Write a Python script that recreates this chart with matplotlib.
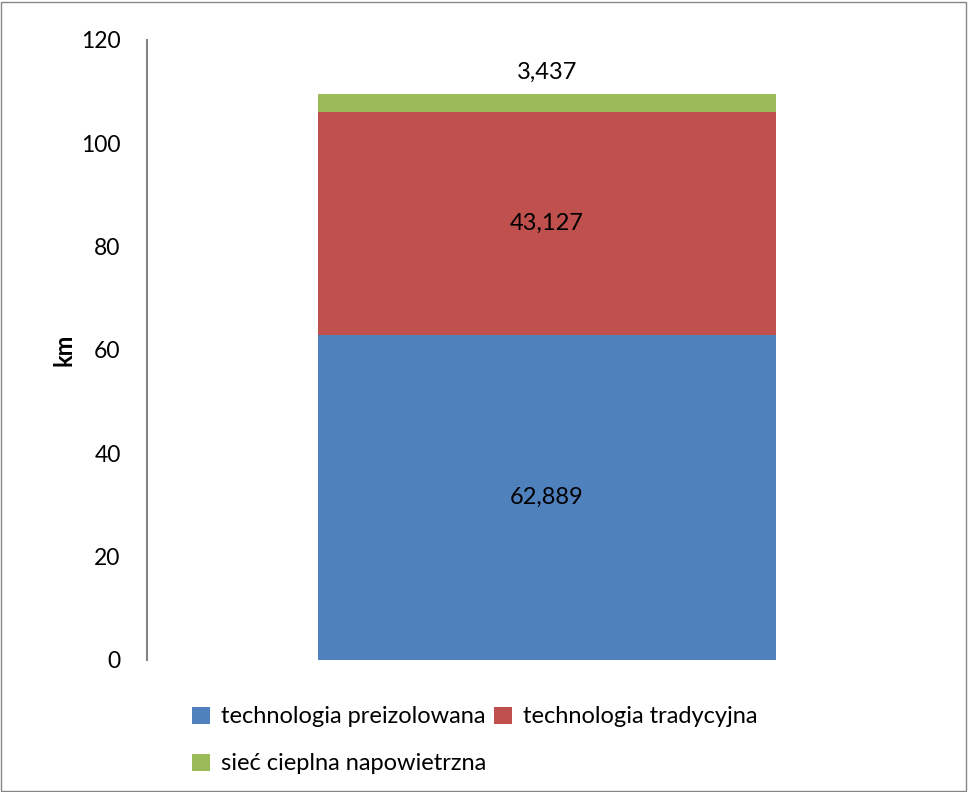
import matplotlib.pyplot as plt
from matplotlib.patches import Rectangle

# dane
series = ['technologia preizolowana', 'technologia tradycyjna', 'sieć cieplna napowietrzna']
values = [62.889, 43.127, 3.437]
labels = ['62,889', '43,127', '3,437']
colors = ['#4F81BD', '#C0504D', '#9BBB59']

plt.rcParams['font.family'] = ['Lato', 'DejaVu Sans']
FS = 17

fig = plt.figure(figsize=(9.68, 7.92), dpi=100)
ax = fig.add_axes([147 / 968, 1 - 660 / 792, 800 / 968, 620 / 792])

bottom = 0
handles = []
for name, val, lab, col in zip(series, values, labels, colors):
    b = ax.bar(0, val, width=0.5725, bottom=bottom, color=col, label=name)
    handles.append(b)
    if val > 10:
        ax.text(0, bottom + val / 2, lab, ha='center', va='center', fontsize=FS)
    else:
        ax.text(0, bottom + val + 2.3, lab, ha='center', va='bottom', fontsize=FS)
    bottom += val

ax.set_xlim(-0.5, 0.5)
ax.set_ylim(0, 120)
ax.set_yticks(range(0, 121, 20))
ax.set_xticks([])
ax.tick_params(axis='y', length=0, pad=19, labelsize=16.5)
for s in ['top', 'right', 'bottom']:
    ax.spines[s].set_visible(False)
ax.spines['left'].set_color('#868686')
ax.spines['left'].set_linewidth(1.5)
ax.set_ylabel('km', fontsize=FS, fontweight='bold', labelpad=4)

# legenda: wiersz po wierszu
order = [handles[0], handles[2], handles[1]]
fig.legend(order, [h.get_label() for h in order], ncol=2, frameon=False,
           loc='upper left', bbox_to_anchor=(183 / 968, 1 - 697 / 792),
           fontsize=FS, handlelength=0.75, handleheight=0.75, handletextpad=0.45,
           columnspacing=0.35, labelspacing=1.1, borderaxespad=0)

fig.add_artist(Rectangle((0.001, 0.001), 0.997, 0.997, transform=fig.transFigure,
                         fill=False, edgecolor='#868686', linewidth=1))

fig.savefig('out.png', dpi=100)
